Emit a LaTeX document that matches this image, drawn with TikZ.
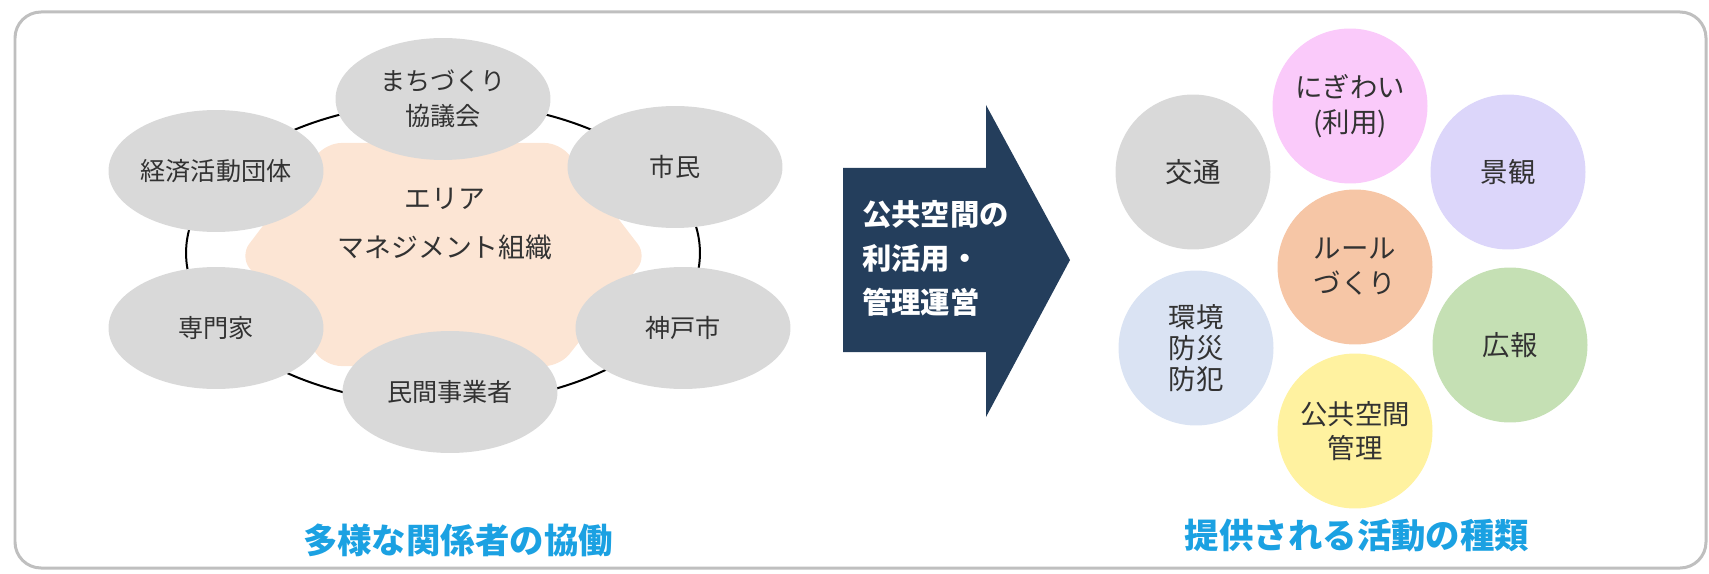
\documentclass[tikz,border=0pt]{standalone}
\usepackage{fontspec}
\setmainfont{Noto Sans CJK JP}
\usepackage{xcolor}
\usepackage{tikz}
\usetikzlibrary{shapes.geometric}

\definecolor{ashgray}{RGB}{217,217,217}
\definecolor{inkgray}{RGB}{50,50,50}
\definecolor{peach}{RGB}{252,229,212}
\definecolor{navy}{RGB}{36,62,92}
\definecolor{capblue}{RGB}{27,161,226}
\definecolor{pinkish}{RGB}{250,202,250}
\definecolor{lavender}{RGB}{220,214,250}
\definecolor{apricot}{RGB}{246,198,166}
\definecolor{skyish}{RGB}{218,227,243}
\definecolor{leaf}{RGB}{197,224,180}
\definecolor{butter}{RGB}{255,242,160}

\begin{document}
\begin{tikzpicture}[x=0.02cm, y=-0.02cm,
  outline/.style={draw=black!25, line width=0.06cm, rounded corners=0.52cm},
  ring/.style={draw=black, line width=0.04cm},
  stake/.style={ellipse, fill=ashgray, minimum width=4.3cm,
                minimum height=2.44cm, inner sep=0pt, align=center,
                text=inkgray, font=\fontsize{14.3}{19.8}\selectfont},
  act/.style={circle, minimum size=3.1cm, inner sep=0pt, align=center,
              text=inkgray, font=\fontsize{15.6}{19.8}\selectfont},
  headline/.style={font=\bfseries\fontsize{19.6}{24}\selectfont, text=capblue}
]
  \useasboundingbox (0,0) rectangle (1709,574);
  \draw[outline] (15,12) rectangle (1706,568);

  % left: stakeholders round the organisation
  \fill[peach, rounded corners=0.3cm]
    (240,256) -- (326,143) -- (560,143) -- (647,256)
    -- (560,366) -- (326,366) -- cycle;
  \draw[ring] (443,253) ellipse [x radius=5.14cm, y radius=3.02cm];

  \node[stake] (council) at (443,99)  {まちづくり\\協議会};
  \node[stake] (economy) at (216,171) {経済活動団体};
  \node[stake] (citizen) at (675,167) {市民};
  \node[stake] (expert)  at (216,328) {専門家};
  \node[stake] (kobe)    at (683,328) {神戸市};
  \node[stake] (private) at (450,392) {民間事業者};

  \node[align=center, text=inkgray, font=\fontsize{15.3}{28.3}\selectfont]
    (org) at (445,224) {エリア\\マネジメント組織};

  \node[headline] (together) at (458,540) {多様な関係者の協働};

  % middle: big arrow
  \fill[navy] (843,168) -- (986,168) -- (986,105) -- (1070,260)
    -- (986,417) -- (986,352) -- (843,352) -- cycle;
  \node[anchor=west, align=left, text=white,
        font=\bfseries\fontsize{16.7}{25}\selectfont]
    (use) at (856,258) {公共空間の\\利活用・\\管理運営};

  % right: kinds of activity
  \node[act, fill=ashgray]  (traffic)  at (1193,172) {交通};
  \node[act, fill=pinkish]  (bustle)   at (1350,106) {にぎわい\\(利用)};
  \node[act, fill=lavender] (scenery)  at (1508,172) {景観};
  \node[act, fill=apricot]  (rules)    at (1355,267) {ルール\\づくり};
  \node[act, fill=skyish,
        font=\fontsize{15.6}{17.6}\selectfont]
                            (safety)   at (1196,348) {環境\\防災\\防犯};
  \node[act, fill=leaf]     (pr)       at (1510,345) {広報};
  \node[act, fill=butter]   (space)    at (1355,431) {公共空間\\管理};

  \node[headline] (kinds) at (1357,536) {提供される活動の種類};
\end{tikzpicture}
\end{document}
